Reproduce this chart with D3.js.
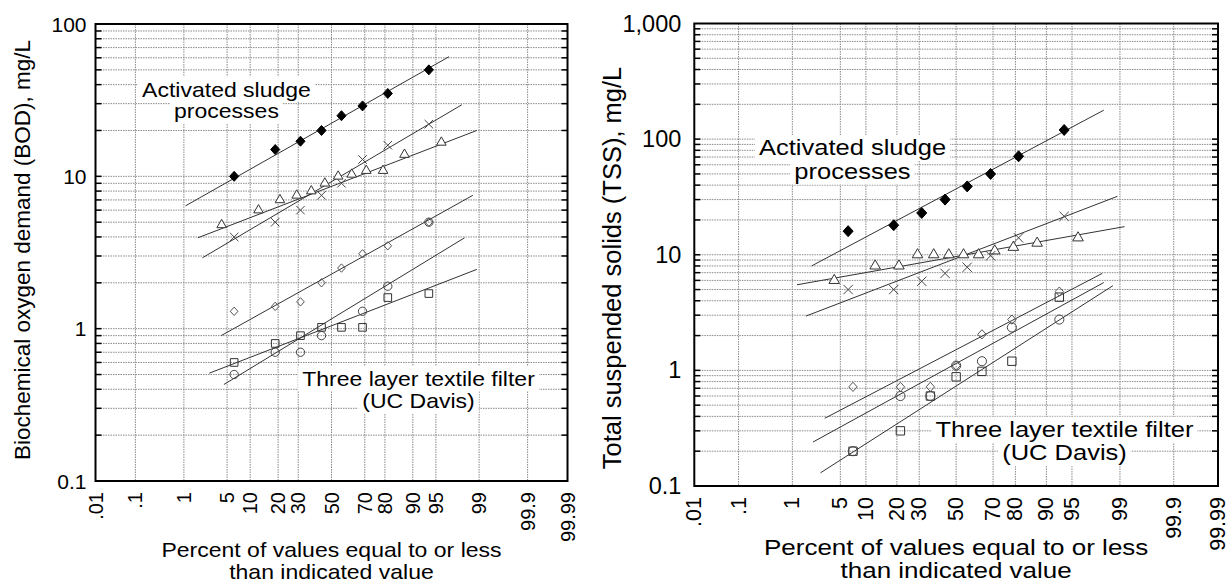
<!DOCTYPE html>
<html>
<head>
<meta charset="utf-8">
<script src="https://cdn.jsdelivr.net/npm/d3@7"></script>
<style>
  body { margin: 0; background: #fff; }
  svg { display: block; font-family: "Liberation Sans", Arial, Helvetica, sans-serif; }
</style>
</head>
<body>
<svg id="chart" width="1230" height="583"></svg>
<script>
// probability axis ticks (percent)
const probTicks = [0.01, 0.1, 1, 5, 10, 20, 30, 50, 70, 80, 90, 95, 99, 99.9, 99.99];
const probLabels = [".01", ".1", "1", "5", "10", "20", "30", "50", "70", "80", "90", "95", "99", "99.9", "99.99"];

// BOD panel, plotting positions (%) and values (mg/L)
const bodSludgePct = [6.25, 18.75, 31.25, 43.75, 56.25, 68.75, 81.25, 93.75];
const bodSludge    = [10, 15, 17, 20, 25, 29, 35, 50];
const bodTriPct = [4.17, 12.5, 20.83, 29.17, 37.5, 45.83, 54.17, 62.5, 70.83, 79.17, 87.5, 95.83];
const bodTri    = [4.8, 6.0, 7.0, 7.5, 8.0, 9.0, 10, 10.3, 10.9, 10.9, 13.9, 16.7];
const bodXPct = [6.25, 18.75, 31.25, 43.75, 56.25, 68.75, 81.25, 93.75];
const bodX    = [4.0, 5.0, 6.0, 7.5, 9.0, 12.9, 16, 22];
const bodDiaPct = [6.25, 18.75, 31.25, 43.75, 56.25, 68.75, 81.25, 93.75];
const bodDia    = [1.3, 1.4, 1.5, 2.0, 2.5, 3.1, 3.5, 5.0];
const bodCirPct = [6.25, 18.75, 31.25, 43.75, 68.75, 81.25, 93.75];
const bodCir    = [0.5, 0.7, 0.7, 0.9, 1.3, 1.9, 5.0];
const bodSqPct = [6.25, 18.75, 31.25, 43.75, 56.25, 68.75, 81.25, 93.75];
const bodSq    = [0.6, 0.8, 0.9, 1.02, 1.02, 1.02, 1.6, 1.7];
// fitted lines: [percent, value] at both ends
const bodSludgeLine = [[1.07, 6.4], [96.8, 61]];
const bodTriLine    = [[1.76, 3.95], [98.9, 20]];
const bodXLine      = [[2.1, 2.92], [98.0, 29.5]];
const bodDiaLine    = [[4.1, 0.9], [98.7, 7.5]];
const bodCirLine    = [[4.5, 0.43], [98.2, 3.95]];
const bodSqLine     = [[2.7, 0.51], [98.9, 2.45]];

// TSS panel
const tssSludgePct = [6.25, 18.75, 31.25, 43.75, 56.25, 68.75, 81.25, 93.75];
const tssSludge    = [16, 18, 23, 30, 39, 50, 71, 120];
const tssTriPct = [4.17, 12.5, 20.83, 29.17, 37.5, 45.83, 54.17, 62.5, 70.83, 79.17, 87.5, 95.83];
const tssTri    = [6, 8, 8, 10, 10, 10, 10, 10, 10.8, 11.6, 12.6, 14];
const tssXPct = [6.25, 18.75, 31.25, 43.75, 56.25, 68.75, 81.25, 93.75];
const tssX    = [5, 5, 5.9, 6.9, 7.8, 9.8, 14, 21.5];
const tssDiaPct = [7.14, 21.43, 35.71, 50, 64.29, 78.57, 92.86];
const tssDia    = [0.72, 0.72, 0.72, 1.1, 2.05, 2.75, 4.8];
const tssCirPct = [7.14, 21.43, 35.71, 50, 64.29, 78.57, 92.86];
const tssCir    = [0.2, 0.6, 0.6, 1.1, 1.2, 2.35, 2.75];
const tssSqPct = [7.14, 21.43, 35.71, 50, 64.29, 78.57, 92.86];
const tssSq    = [0.2, 0.3, 0.6, 0.88, 0.98, 1.2, 4.3];
const tssSludgeLine = [[2.0, 8.0], [98.2, 178]];
const tssTriLine    = [[1.19, 5.5], [99.16, 17.5]];
const tssXLine      = [[1.65, 2.95], [98.9, 32]];
const tssDiaLine    = [[3.1, 0.385], [98.1, 6.9]];
const tssCirLine    = [[2.1, 0.24], [98.2, 5.75]];
const tssSqLine     = [[2.7, 0.13], [98.7, 5.4]];

// inverse normal CDF (Acklam)
function probit(p) {
    const a = [-3.969683028665376e+01, 2.209460984245205e+02, -2.759285104469687e+02, 1.383577518672690e+02, -3.066479806614716e+01, 2.506628277459239e+00];
    const b = [-5.447609879822406e+01, 1.615858368580409e+02, -1.556989798598866e+02, 6.680131188771972e+01, -1.328068155288572e+01];
    const c = [-7.784894002430293e-03, -3.223964580411365e-01, -2.400758277161838e+00, -2.549732539343734e+00, 4.374664141464968e+00, 2.938163982698783e+00];
    const d = [7.784695709041462e-03, 3.224671290700398e-01, 2.445134137142996e+00, 3.754408661907416e+00];
    const pl = 0.02425;
    let q, r;
    if (p < pl) {
        q = Math.sqrt(-2 * Math.log(p));
        return (((((c[0]*q+c[1])*q+c[2])*q+c[3])*q+c[4])*q+c[5]) / ((((d[0]*q+d[1])*q+d[2])*q+d[3])*q+1);
    }
    if (p <= 1 - pl) {
        q = p - 0.5; r = q * q;
        return (((((a[0]*r+a[1])*r+a[2])*r+a[3])*r+a[4])*r+a[5])*q / (((((b[0]*r+b[1])*r+b[2])*r+b[3])*r+b[4])*r+1);
    }
    q = Math.sqrt(-2 * Math.log(1 - p));
    return -(((((c[0]*q+c[1])*q+c[2])*q+c[3])*q+c[4])*q+c[5]) / ((((d[0]*q+d[1])*q+d[2])*q+d[3])*q+1);
}

// custom marker shapes
const symDiamond = { draw(ctx, size) { const r = Math.sqrt(size) * 0.62; ctx.moveTo(0, -r * 1.1); ctx.lineTo(r, 0); ctx.lineTo(0, r * 1.1); ctx.lineTo(-r, 0); ctx.closePath(); } };
const symTimes = { draw(ctx, size) { const r = Math.sqrt(size) / 2; ctx.moveTo(-r, -r); ctx.lineTo(r, r); ctx.moveTo(r, -r); ctx.lineTo(-r, r); } };

const svg = d3.select("#chart");

function zip(p, v) { return p.map((d, i) => ({ p: d, v: v[i] })); }

// a centred line of text: width of the wide original face, height of a shorter one
function wideText(sel, str, cx, y, size, shrink) {
    const t = sel.append("text")
        .attr("x", cx).attr("y", y)
        .attr("text-anchor", "middle")
        .attr("font-size", size)
        .text(str);
    const w = t.node().getComputedTextLength();
    t.attr("font-size", size * shrink)
        .attr("textLength", w)
        .attr("lengthAdjust", "spacingAndGlyphs");
    return t;
}

function drawPanel(cfg) {
    const g = svg.append("g");
    const x = d3.scaleLinear().domain([probit(0.0001), probit(0.9999)]).range([cfg.x0, cfg.x1]);
    const y = d3.scaleLog().domain(cfg.yDomain).range([cfg.y1, cfg.y0]);
    const px = p => x(probit(p / 100));
    const k = cfg.k;

    // grid values on the log axis
    const yGrid = [];
    const lo = Math.round(Math.log10(cfg.yDomain[0])), hi = Math.round(Math.log10(cfg.yDomain[1]));
    for (let e = lo; e < hi; e++) {
        for (let m = 1; m <= 9; m++) yGrid.push(m * Math.pow(10, e));
    }
    yGrid.push(Math.pow(10, hi));

    g.append("g").selectAll("line")
        .data(yGrid.slice(1, -1))
        .enter().append("line")
        .attr("x1", cfg.x0).attr("x2", cfg.x1)
        .attr("y1", d => y(d)).attr("y2", d => y(d))
        .attr("stroke", "#8a8a8a").attr("stroke-width", 1)
        .attr("stroke-dasharray", "1.5,1");

    g.append("g").selectAll("line")
        .data(probTicks.slice(1, -1))
        .enter().append("line")
        .attr("x1", d => px(d)).attr("x2", d => px(d))
        .attr("y1", cfg.y0).attr("y2", cfg.y1)
        .attr("stroke", "#8a8a8a").attr("stroke-width", 1)
        .attr("stroke-dasharray", "1.5,1");

    // annotations with white boxes over the grid
    cfg.notes.forEach(n => {
        const ng = g.append("g");
        n.lines.forEach((ln, i) => {
            const t = wideText(ng, ln, n.cx, n.y + i * n.lh, n.size, cfg.shrink);
            const bb = t.node().getBBox();
            ng.insert("rect", "text")
                .attr("x", bb.x - 4).attr("y", bb.y - 1)
                .attr("width", bb.width + 8).attr("height", bb.height + 2)
                .attr("fill", "#fff");
        });
    });

    // fitted lines
    const line = d3.line().x(d => px(d[0])).y(d => y(d[1]));
    g.append("g").selectAll("path")
        .data(cfg.lines)
        .enter().append("path")
        .attr("d", line)
        .attr("fill", "none").attr("stroke", "#333").attr("stroke-width", 1);

    // markers
    cfg.series.forEach(s => {
        g.append("g").selectAll("path")
            .data(zip(s.pct, s.vals))
            .enter().append("path")
            .attr("transform", d => `translate(${px(d.p)},${y(d.v)})`)
            .attr("d", d3.symbol().type(s.type).size(s.size * k * k))
            .attr("fill", s.fill)
            .attr("stroke", s.stroke)
            .attr("stroke-width", 1);
    });

    // frame
    g.append("rect")
        .attr("x", cfg.x0).attr("y", cfg.y0)
        .attr("width", cfg.x1 - cfg.x0).attr("height", cfg.y1 - cfg.y0)
        .attr("fill", "none").attr("stroke", "#000").attr("stroke-width", 2);

    // inward ticks on both sides
    const ticks = yGrid.slice(1, -1);
    g.append("g").selectAll("line")
        .data(ticks)
        .enter().append("line")
        .attr("x1", cfg.x0).attr("x2", cfg.x0 + 6)
        .attr("y1", d => y(d)).attr("y2", d => y(d))
        .attr("stroke", "#000").attr("stroke-width", 1.5);
    g.append("g").selectAll("line")
        .data(ticks)
        .enter().append("line")
        .attr("x1", cfg.x1 - 6).attr("x2", cfg.x1)
        .attr("y1", d => y(d)).attr("y2", d => y(d))
        .attr("stroke", "#000").attr("stroke-width", 1.5);

    // y tick labels
    g.append("g").selectAll("text")
        .data(cfg.yTicks)
        .enter().append("text")
        .attr("x", cfg.x0 - cfg.yLabGap).attr("y", d => y(d))
        .attr("text-anchor", "end").attr("dominant-baseline", "central")
        .attr("font-size", cfg.yTickSize)
        .text(d => d >= 1000 ? d3.format(",")(d) : String(d));

    // x tick labels, vertical
    g.append("g").selectAll("text")
        .data(probTicks)
        .enter().append("text")
        .attr("transform", d => `translate(${px(d)},${cfg.y1 + 11}) rotate(-90)`)
        .attr("text-anchor", "end").attr("dominant-baseline", "central")
        .attr("font-size", cfg.xTickSize)
        .text((d, i) => probLabels[i]);

    // axis titles
    g.append("text")
        .attr("transform", `translate(${cfg.yTitleX},${cfg.yTitleY}) rotate(-90)`)
        .attr("text-anchor", "middle").attr("font-size", cfg.titleSize)
        .text(cfg.yTitle);
    const cx = (cfg.x0 + cfg.x1) / 2;
    wideText(g, "Percent of values equal to or less", cx, cfg.xTitleY, cfg.titleSize + 0.5, cfg.shrink);
    wideText(g, "than indicated value", cx, cfg.xTitleY + cfg.xTitleLh, cfg.titleSize + 0.5, cfg.shrink);
}

function seriesSet(d) {
    return [
        { pct: d.triPct, vals: d.tri, type: d3.symbolTriangle, size: 40, fill: "#fff", stroke: "#333" },
        { pct: d.xPct, vals: d.x, type: symTimes, size: 72, fill: "none", stroke: "#444" },
        { pct: d.sqPct, vals: d.sq, type: d3.symbolSquare, size: 58, fill: "none", stroke: "#333" },
        { pct: d.cirPct, vals: d.cir, type: d3.symbolCircle, size: 54, fill: "none", stroke: "#444" },
        { pct: d.diaPct, vals: d.dia, type: symDiamond, size: 38, fill: "none", stroke: "#555" },
        { pct: d.sludgePct, vals: d.sludge, type: symDiamond, size: 54, fill: "#000", stroke: "#000" }
    ];
}

drawPanel({
    x0: 95.5, x1: 567.5, y0: 24, y1: 481, k: 1, shrink: 0.9,
    yDomain: [0.1, 100], yTicks: [0.1, 1, 10, 100],
    yTickSize: 21, xTickSize: 20, titleSize: 22.5, yLabGap: 9, xTitleY: 557, xTitleLh: 21.5,
    yTitle: "Biochemical oxygen demand (BOD), mg/L", yTitleX: 30, yTitleY: 250,
    notes: [
        { cx: 226.5, y: 96.5, lh: 21.5, size: 23, lines: ["Activated sludge", "processes"] },
        { cx: 418.5, y: 386, lh: 22.3, size: 23, lines: ["Three layer textile filter", "(UC Davis)"] }
    ],
    lines: [bodSludgeLine, bodTriLine, bodXLine, bodDiaLine, bodCirLine, bodSqLine],
    series: seriesSet({
        sludgePct: bodSludgePct, sludge: bodSludge, triPct: bodTriPct, tri: bodTri,
        xPct: bodXPct, x: bodX, diaPct: bodDiaPct, dia: bodDia,
        cirPct: bodCirPct, cir: bodCir, sqPct: bodSqPct, sq: bodSq
    })
});

drawPanel({
    x0: 694.3, x1: 1218, y0: 23.5, y1: 486, k: 1.1, shrink: 0.84,
    yDomain: [0.1, 1000], yTicks: [0.1, 1, 10, 100, 1000],
    yTickSize: 23.5, xTickSize: 21.5, titleSize: 25.5, yLabGap: 13, xTitleY: 555, xTitleLh: 23.2,
    yTitle: "Total suspended solids (TSS), mg/L", yTitleX: 621, yTitleY: 268,
    notes: [
        { cx: 852.5, y: 155, lh: 23.5, size: 25.5, lines: ["Activated sludge", "processes"] },
        { cx: 1064.5, y: 436.7, lh: 23.5, size: 25.5, lines: ["Three layer textile filter", "(UC Davis)"] }
    ],
    lines: [tssSludgeLine, tssTriLine, tssXLine, tssDiaLine, tssCirLine, tssSqLine],
    series: seriesSet({
        sludgePct: tssSludgePct, sludge: tssSludge, triPct: tssTriPct, tri: tssTri,
        xPct: tssXPct, x: tssX, diaPct: tssDiaPct, dia: tssDia,
        cirPct: tssCirPct, cir: tssCir, sqPct: tssSqPct, sq: tssSq
    })
});
</script>
</body>
</html>
